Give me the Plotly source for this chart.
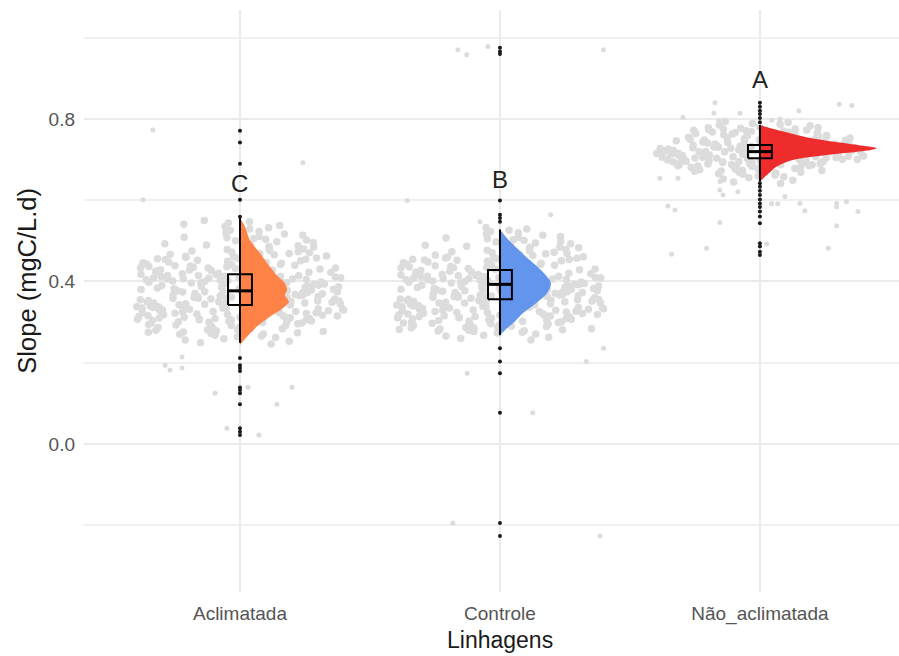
import plotly.graph_objects as go

categories = ["Aclimatada", "Controle", "Não_aclimatada"]
positions = [0, 1, 2]
fill_colors = ["#FF8247", "#6495ED", "#EE2C2C"]

# boxplot summary
q1 = [0.342, 0.356, 0.703]
median = [0.377, 0.393, 0.7195]
q3 = [0.418, 0.428, 0.736]
lowerfence = [0.249, 0.268, 0.646]
upperfence = [0.556, 0.528, 0.785]

# significance letters
letters = ["C", "B", "A"]
letter_y = [0.642, 0.650, 0.897]

# boxplot outliers
out_acl = [0.771, 0.742, 0.690, 0.601, 0.559, 0.212, 0.194, 0.187, 0.180, 0.139,
           0.133, 0.125, 0.098, 0.039, 0.030, 0.022]
out_ctl = [0.975, 0.966, 0.960, 0.599, 0.564, 0.556, 0.547, 0.236, 0.203, 0.174,
           0.077, -0.194, -0.226]
out_nao = [0.840, 0.830, 0.820, 0.812, 0.802, 0.792, 0.642, 0.633, 0.623, 0.613,
           0.602, 0.592, 0.583, 0.572, 0.560, 0.543, 0.494, 0.486, 0.473, 0.465]

# half-violin density profiles (y level, half width in category units)
vy_acl = [0.244, 0.264, 0.289, 0.313, 0.334, 0.350, 0.367, 0.379, 0.396, 0.412, 0.436, 0.470, 0.502, 0.535, 0.556]
vw_acl = [0.0, 0.027, 0.065, 0.115, 0.165, 0.188, 0.173, 0.181, 0.173, 0.146, 0.115, 0.077, 0.038, 0.019, 0.0]
vy_ctl = [0.268, 0.282, 0.297, 0.322, 0.346, 0.371, 0.396, 0.428, 0.461, 0.494, 0.512, 0.528]
vw_ctl = [0.0, 0.022, 0.050, 0.088, 0.138, 0.181, 0.196, 0.158, 0.100, 0.046, 0.020, 0.0]
vy_nao = [0.646, 0.662, 0.683, 0.699, 0.711, 0.722, 0.728, 0.734, 0.742, 0.752, 0.765, 0.777, 0.785]
vw_nao = [0.0, 0.027, 0.065, 0.127, 0.258, 0.412, 0.450, 0.396, 0.308, 0.204, 0.115, 0.042, 0.0]

# scattered raw points lying away from the main cloud (offset from category, value)
stray_dx_acl = [-0.335, 0.242, -0.373, -0.223, -0.288, -0.269, -0.223, 0.031, 0.200, -0.096, 0.142, -0.050, 0.073]
stray_y_acl = [0.773, 0.692, 0.601, 0.214, 0.194, 0.182, 0.187, 0.140, 0.140, 0.125, 0.098, 0.039, 0.022]
stray_dx_ctl = [-0.162, -0.128, -0.046, 0.398, -0.357, -0.077, 0.195, 0.398, 0.332, -0.126, 0.126, -0.181, 0.385]
stray_y_ctl = [0.970, 0.958, 0.978, 0.970, 0.599, 0.547, 0.564, 0.236, 0.203, 0.174, 0.077, -0.194, -0.226]
stray_dx_nao = [-0.173, 0.305, 0.353, 0.150, -0.177, -0.158, -0.077, -0.296, 0.045, 0.077, -0.385, -0.315,
                -0.154, -0.154, -0.142, -0.085, 0.096, 0.045, 0.069, 0.154, 0.295, 0.295, 0.333, -0.354,
                -0.327, 0.173, 0.377, -0.154, 0.295, 0.026, 0.263, -0.205, -0.340]
stray_y_nao = [0.840, 0.836, 0.833, 0.820, 0.814, 0.796, 0.814, 0.804, 0.797, 0.800, 0.654, 0.654,
               0.646, 0.625, 0.613, 0.621, 0.609, 0.591, 0.591, 0.592, 0.592, 0.584, 0.596, 0.586,
               0.576, 0.574, 0.572, 0.545, 0.537, 0.492, 0.482, 0.482, 0.467]

# main raw-data clouds (values in thousandths)
cloud_acl = [
    246, 249, 253, 256, 259, 262, 264, 266, 268,
    270, 271, 272, 274, 275, 276, 277, 279, 280, 281, 282, 284, 285, 286, 287, 288, 290, 291, 292, 293, 294, 296, 297, 298, 299,
    300, 301, 301, 302, 303, 304, 305, 305, 306, 307, 308, 309, 309, 310, 311, 312, 312, 313, 314, 315, 316, 316, 317, 318, 319,
    319, 320, 321, 322, 323, 323, 324, 325, 326, 326, 327, 328, 329,
    330, 330, 331, 332, 333, 333, 334, 335, 335, 336, 337, 338, 338, 339, 340, 340, 341, 342, 342, 343, 344, 345, 345, 346, 347,
    347, 348, 349, 350, 350, 351, 352, 352, 353, 354, 355, 355, 356, 357, 357, 358, 359,
    360, 360, 361, 362, 362, 363, 364, 365, 365, 366, 367, 367, 368, 369, 370, 370, 371, 372, 372, 373, 374, 375, 375, 376, 377,
    377, 378, 379, 380, 380, 381, 382, 382, 383, 384, 385, 385, 386, 387, 387, 388, 389,
    390, 391, 391, 392, 393, 394, 394, 395, 396, 397, 397, 398, 399, 400, 400, 401, 402, 403, 403, 404, 405, 406, 406, 407, 408,
    409, 409, 410, 411, 412, 412, 413, 414, 415, 415, 416, 417, 418, 419,
    420, 421, 422, 423, 423, 424, 425, 426, 427, 428, 428, 429, 430, 431, 432, 433, 433, 434, 435, 436, 437, 438, 438, 439, 440,
    441, 442, 443, 444, 445, 446, 447, 448, 449,
    450, 451, 452, 454, 455, 456, 457, 458, 459, 461, 462, 463, 464, 466, 467, 468, 469, 471, 472, 473, 475, 476, 477, 479,
    480, 482, 483, 485, 486, 488, 490, 491, 493, 495, 496, 498, 500, 502, 504, 506, 508, 509,
    511, 514, 517, 520, 523, 526, 529, 532, 535, 538, 541, 544, 547, 550]
cloud_ctl = [
    256, 260, 263, 266, 268, 271, 273, 275, 277, 278, 279,
    280, 281, 282, 283, 284, 285, 286, 287, 288, 289, 290, 291, 292, 293, 294, 295, 296, 297, 298, 299, 300, 301, 302, 303, 304,
    305, 306, 307, 308, 309,
    310, 311, 311, 312, 313, 314, 314, 315, 316, 317, 317, 318, 319, 320, 320, 321, 322, 323, 323, 324, 325, 326, 326, 327, 328,
    329, 329, 330, 331, 332, 332, 333, 334, 335, 335, 336, 337, 338, 338, 339,
    340, 341, 341, 342, 343, 343, 344, 345, 345, 346, 347, 347, 348, 349, 349, 350, 351, 351, 352, 353, 353, 354, 355, 355, 356,
    357, 357, 358, 359, 359, 360, 361, 361, 362, 363, 363, 364, 365, 365, 366, 367, 367, 368, 369,
    370, 371, 371, 372, 373, 373, 374, 375, 375, 376, 377, 377, 378, 379, 379, 380, 381, 381, 382, 383, 383, 384, 385, 385, 386,
    387, 387, 388, 389, 389, 390, 391, 391, 392, 393, 393, 394, 395, 395, 396, 397, 397, 398, 399,
    400, 401, 401, 402, 403, 403, 404, 405, 405, 406, 407, 407, 408, 409, 409, 410, 411, 411, 412, 413, 413, 414, 415, 415, 416,
    417, 417, 418, 419, 419, 420, 421, 422, 423, 424, 425, 426, 427, 428, 429,
    430, 431, 432, 433, 434, 435, 436, 437, 438, 439, 440, 441, 442, 443, 444, 445, 446, 447, 448, 449, 450, 451, 452, 453, 454,
    455, 456, 457, 458, 459,
    460, 461, 463, 464, 465, 467, 468, 469, 471, 472, 473, 475, 476, 477, 479, 480, 481, 483, 484, 485, 487, 488, 489,
    491, 493, 495, 497, 499, 501, 503, 505, 507, 509, 511, 514, 517, 520, 523, 526, 529, 533]
cloud_nao = [
    641, 645, 649, 652, 655, 658,
    660, 662, 664, 665, 667, 668, 669, 671, 672, 673, 674, 675, 676, 677, 678, 679,
    680, 681, 681, 682, 683, 683, 684, 685, 685, 686, 687, 687, 688, 689, 689, 690, 690, 691, 692, 692, 693, 694, 694, 695, 695,
    696, 697, 697, 698, 699, 699,
    700, 700, 701, 701, 702, 702, 703, 703, 704, 704, 705, 705, 706, 706, 707, 707, 708, 708, 709, 709, 710, 710, 711, 711, 712,
    712, 713, 713, 714, 714, 715, 715, 716, 716, 717, 717, 718, 718, 719, 719,
    720, 720, 721, 721, 722, 722, 723, 723, 724, 724, 725, 725, 726, 726, 727, 727, 728, 728, 729, 729, 730, 730, 731, 731, 732,
    732, 733, 733, 734, 734, 735, 735, 736, 736, 737, 737, 738, 738, 739, 739,
    740, 741, 741, 742, 742, 743, 744, 744, 745, 746, 746, 747, 748, 748, 749, 750, 750, 751, 752, 752, 753, 754, 754, 755, 756,
    756, 757, 758, 758, 759,
    760, 761, 762, 763, 764, 765, 766, 767, 768, 769, 770, 771, 772, 773, 774, 775, 776, 777, 778, 779,
    781, 783, 785, 787, 789, 791, 794]

clouds = [cloud_acl, cloud_ctl, cloud_nao]
strays = [(stray_dx_acl, stray_y_acl), (stray_dx_ctl, stray_y_ctl), (stray_dx_nao, stray_y_nao)]
violins = [(vy_acl, vw_acl), (vy_ctl, vw_ctl), (vy_nao, vw_nao)]
outliers = [out_acl, out_ctl, out_nao]

FONT = "Liberation Sans, Arial, sans-serif"
GREY_PT = "#dcdcdc"
PT_SIZE = 7.5
BOX_HALF = 0.046

fig = go.Figure()

# raw clouds, jittered by plotly
for pos, cl in zip(positions, clouds):
    fig.add_trace(go.Box(
        y=[v / 1000 for v in cl], x0=pos, width=0.8,
        boxpoints="all", jitter=1, pointpos=0,
        marker=dict(color=GREY_PT, size=PT_SIZE, opacity=1),
        line=dict(width=0, color="rgba(0,0,0,0)"),
        fillcolor="rgba(0,0,0,0)", whiskerwidth=0,
        hoverinfo="skip", showlegend=False))

# sparse raw points
for pos, (dx, sy) in zip(positions, strays):
    fig.add_trace(go.Scatter(
        x=[pos + d for d in dx], y=sy, mode="markers",
        marker=dict(color=GREY_PT, size=5, opacity=1),
        hoverinfo="skip", showlegend=False))

# half violins
for pos, (vy, vw), col in zip(positions, violins, fill_colors):
    fig.add_trace(go.Scatter(
        x=[pos + w for w in vw], y=vy, mode="lines",
        line=dict(width=0, color=col, shape="spline", smoothing=0.8),
        fill="toself", fillcolor=col,
        hoverinfo="skip", showlegend=False))

# vertical whisker line through the whole range
for pos, lo, hi in zip(positions, lowerfence, upperfence):
    fig.add_trace(go.Scatter(
        x=[pos, pos], y=[lo, hi], mode="lines",
        line=dict(color="black", width=2),
        hoverinfo="skip", showlegend=False))

# boxes (transparent fill) and medians
for pos, a, m, b in zip(positions, q1, median, q3):
    fig.add_trace(go.Scatter(
        x=[pos - BOX_HALF, pos + BOX_HALF, pos + BOX_HALF, pos - BOX_HALF, pos - BOX_HALF],
        y=[a, a, b, b, a], mode="lines",
        line=dict(color="black", width=2),
        hoverinfo="skip", showlegend=False))
    fig.add_trace(go.Scatter(
        x=[pos - BOX_HALF, pos + BOX_HALF], y=[m, m], mode="lines",
        line=dict(color="black", width=3),
        hoverinfo="skip", showlegend=False))

# outliers
for pos, ov in zip(positions, outliers):
    fig.add_trace(go.Scatter(
        x=[pos] * len(ov), y=ov, mode="markers",
        marker=dict(color="#1a1a1a", size=4),
        hoverinfo="skip", showlegend=False))

annotations = []
for pos, lt, ly in zip(positions, letters, letter_y):
    annotations.append(dict(x=pos, y=ly, xref="x", yref="y", text=lt, showarrow=False,
                            font=dict(family=FONT, size=24, color="#222222"),
                            xanchor="center", yanchor="middle"))

annotations.append(dict(x=0.5104, y=-0.0825, xref="paper", yref="paper", text="Linhagens",
                        showarrow=False, font=dict(family=FONT, size=23, color="#1a1a1a"),
                        xanchor="center", yanchor="middle"))
annotations.append(dict(x=-0.0699, y=0.535, xref="paper", yref="paper", text="Slope (mgC/L.d)",
                        showarrow=False, textangle=-90,
                        font=dict(family=FONT, size=25.5, color="#1a1a1a"),
                        xanchor="center", yanchor="middle"))

fig.update_layout(
    width=899, height=656,
    margin=dict(l=84, r=0, t=10, b=64),
    plot_bgcolor="white", paper_bgcolor="white",
    showlegend=False,
    annotations=annotations,
    xaxis=dict(type="linear", range=[-0.6, 2.535], tickmode="array", tickvals=positions,
               ticktext=categories, showgrid=True, gridcolor="#ebebeb", gridwidth=2,
               zeroline=False, showline=False, ticks="",
               tickfont=dict(family=FONT, size=19, color="#555555"), ticklabelstandoff=8),
    yaxis=dict(range=[-0.364, 1.068], tickmode="array", tickvals=[0, 0.4, 0.8],
               ticktext=["0.0", "0.4", "0.8"], showgrid=True, gridcolor="#ebebeb", gridwidth=2,
               minor=dict(tickmode="array", tickvals=[-0.2, 0.2, 0.6, 1.0], showgrid=True,
                          gridcolor="#f0f0f0", gridwidth=1.5),
               zeroline=False, showline=False, ticks="",
               tickfont=dict(family=FONT, size=19, color="#555555"), ticklabelstandoff=8),
)

fig.write_html("out.html")
